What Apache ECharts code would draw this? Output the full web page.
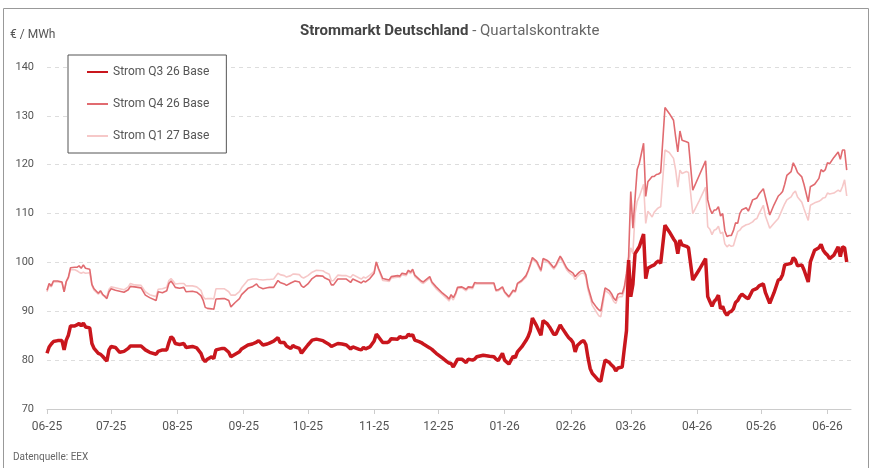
<!DOCTYPE html>
<html>
<head>
<meta charset="utf-8">
<script src="https://cdn.jsdelivr.net/npm/echarts@6/dist/echarts.min.js"></script>
<style>
  html, body { margin: 0; padding: 0; background: #fff; }
  #chart { width: 873px; height: 468px; }
</style>
</head>
<body>
<div id="chart"></div>
<script>
// trading days
const dates = [
  '2025-06-01','2025-06-02','2025-06-03','2025-06-04','2025-06-06','2025-06-08','2025-06-09','2025-06-10','2025-06-11','2025-06-12','2025-06-14','2025-06-15','2025-06-16','2025-06-17','2025-06-18','2025-06-19','2025-06-21','2025-06-22','2025-06-23','2025-06-25','2025-06-26','2025-06-27','2025-06-29','2025-06-30',
  '2025-07-01','2025-07-03','2025-07-05','2025-07-07','2025-07-09','2025-07-10','2025-07-12','2025-07-15','2025-07-17','2025-07-19','2025-07-22','2025-07-23','2025-07-25','2025-07-27','2025-07-28','2025-07-29','2025-07-30','2025-07-31',
  '2025-08-02','2025-08-04','2025-08-05','2025-08-08','2025-08-10','2025-08-12','2025-08-13','2025-08-14','2025-08-15','2025-08-17','2025-08-18','2025-08-19','2025-08-22','2025-08-23','2025-08-25','2025-08-26','2025-08-28','2025-08-30','2025-08-31',
  '2025-09-03','2025-09-05','2025-09-07','2025-09-08','2025-09-10','2025-09-12','2025-09-13','2025-09-15','2025-09-17','2025-09-18','2025-09-20','2025-09-21','2025-09-23','2025-09-24','2025-09-25','2025-09-27','2025-09-28','2025-09-29',
  '2025-10-01','2025-10-03','2025-10-05','2025-10-08','2025-10-09','2025-10-11','2025-10-12','2025-10-13','2025-10-15','2025-10-17','2025-10-19','2025-10-21','2025-10-22','2025-10-25','2025-10-26','2025-10-27','2025-10-28','2025-10-30',
  '2025-11-01','2025-11-02','2025-11-03','2025-11-05','2025-11-07','2025-11-08','2025-11-09','2025-11-12','2025-11-13','2025-11-14','2025-11-16','2025-11-17','2025-11-18','2025-11-19','2025-11-20','2025-11-22','2025-11-23','2025-11-24','2025-11-27','2025-11-28','2025-11-30',
  '2025-12-03','2025-12-05','2025-12-06','2025-12-07','2025-12-08','2025-12-09','2025-12-10','2025-12-12','2025-12-14','2025-12-15','2025-12-17','2025-12-18','2025-12-19','2025-12-22','2025-12-25','2025-12-27','2025-12-28','2025-12-29','2025-12-31',
  '2026-01-01','2026-01-03','2026-01-05','2026-01-06','2026-01-07','2026-01-09','2026-01-11','2026-01-12','2026-01-13','2026-01-14','2026-01-16','2026-01-18','2026-01-19','2026-01-21','2026-01-22','2026-01-24','2026-01-25','2026-01-27','2026-01-28','2026-01-30','2026-01-31',
  '2026-02-01','2026-02-02','2026-02-03','2026-02-04','2026-02-05','2026-02-06','2026-02-07','2026-02-08','2026-02-09','2026-02-10','2026-02-11','2026-02-13','2026-02-14','2026-02-15','2026-02-16','2026-02-17','2026-02-19','2026-02-20','2026-02-21','2026-02-22','2026-02-23','2026-02-24','2026-02-25','2026-02-26','2026-02-27','2026-02-28',
  '2026-03-01','2026-03-02','2026-03-03','2026-03-04','2026-03-05','2026-03-07','2026-03-08','2026-03-09','2026-03-11','2026-03-12','2026-03-13','2026-03-14','2026-03-15','2026-03-17','2026-03-19','2026-03-21','2026-03-22','2026-03-23','2026-03-24','2026-03-25','2026-03-27','2026-03-28','2026-03-30',
  '2026-04-02','2026-04-05','2026-04-06','2026-04-07','2026-04-08','2026-04-09','2026-04-10','2026-04-11','2026-04-12','2026-04-13','2026-04-14','2026-04-15','2026-04-16','2026-04-17','2026-04-18','2026-04-19','2026-04-20','2026-04-21','2026-04-22','2026-04-24','2026-04-25','2026-04-27','2026-04-28','2026-04-29','2026-04-30',
  '2026-05-02','2026-05-03','2026-05-05','2026-05-07','2026-05-09','2026-05-10','2026-05-11','2026-05-12','2026-05-13','2026-05-15','2026-05-16','2026-05-17','2026-05-18','2026-05-20','2026-05-21','2026-05-23','2026-05-24','2026-05-26','2026-05-28','2026-05-29','2026-05-30','2026-05-31',
  '2026-06-01','2026-06-02','2026-06-04','2026-06-06','2026-06-07','2026-06-08','2026-06-09','2026-06-10'
];

// Strom Q3 26 Base
const q3 = [
  81.4, 82.7, 83.3, 83.8, 84.0, 84.0, 82.1, 84.1, 85.1, 87.0, 87.0, 87.2, 87.5, 87.0, 87.6, 86.8, 86.6, 83.4, 82.4, 81.4, 81.2, 80.8, 79.8, 82.1,
  82.8, 82.6, 81.6, 81.8, 82.4, 82.9, 82.9, 82.9, 82.1, 81.6, 81.2, 81.8, 82.1, 82.1, 83.6, 84.8, 84.4, 83.4,
  83.2, 83.4, 82.6, 82.8, 82.5, 81.4, 80.2, 79.7, 80.2, 80.7, 80.3, 82.1, 82.4, 82.4, 81.6, 80.7, 81.2, 81.7, 82.3,
  83.1, 83.3, 83.7, 84.0, 83.1, 83.3, 83.5, 83.9, 84.6, 83.6, 83.6, 82.9, 82.4, 83.0, 82.7, 82.4, 81.4, 82.0,
  83.1, 84.1, 84.3, 84.0, 83.7, 83.2, 82.8, 83.0, 83.4, 83.3, 83.1, 82.3, 82.7, 82.2, 82.1, 82.6, 82.3, 82.7,
  83.9, 85.3, 84.8, 83.6, 83.6, 83.8, 84.4, 84.3, 84.8, 84.6, 84.7, 85.3, 85.0, 85.2, 84.1, 83.8, 83.6, 83.3, 82.5, 82.2, 81.4,
  80.4, 79.7, 79.4, 79.3, 78.6, 79.4, 80.2, 80.2, 79.5, 80.2, 80.0, 80.2, 80.7, 81.0, 80.8, 80.7, 80.2, 79.9, 81.4,
  80.0, 79.2, 80.8, 80.5, 81.7, 82.7, 84.0, 84.8, 86.0, 88.6, 87.0, 85.1, 88.1, 87.4, 86.8, 85.3, 85.3, 87.2, 86.5, 85.2, 84.6,
  84.2, 83.6, 81.7, 83.0, 83.4, 83.8, 84.0, 83.2, 80.5, 78.3, 77.3, 76.3, 75.8, 75.7, 78.0, 80.0, 79.5, 79.0, 78.6, 77.8, 78.4, 78.5, 78.6, 82.4, 86.0, 100.5,
  93.0, 95.5, 101.8, 102.5, 103.2, 105.8, 96.7, 98.8, 99.3, 99.5, 100.0, 100.3, 99.8, 107.6, 106.3, 104.8, 104.2, 101.8, 104.6, 103.6, 103.3, 103.0, 96.4,
  98.5, 100.8, 93.0, 92.0, 91.0, 92.0, 92.5, 93.3, 90.5, 91.0, 89.8, 89.2, 89.8, 90.0, 90.5, 91.8, 92.2, 93.0, 93.5, 92.8, 92.6, 94.3, 94.5, 94.7, 95.2,
  95.6, 93.8, 91.6, 93.8, 96.4, 96.6, 97.5, 99.5, 99.6, 99.8, 101.0, 100.5, 99.3, 99.5, 98.5, 96.0, 100.1, 102.5, 103.0, 103.7, 102.5, 101.9,
  101.5, 100.8, 101.5, 103.2, 101.2, 103.2, 103.0, 100.1
];

// Strom Q4 26 Base
const q4 = [
  94.3, 95.7, 95.2, 96.2, 96.2, 96.0, 94.0, 96.1, 97.0, 98.9, 99.0, 99.0, 99.3, 98.8, 99.5, 98.8, 98.6, 95.5, 94.6, 93.7, 94.2, 93.5, 92.6, 94.0,
  94.6, 94.3, 94.1, 93.9, 94.4, 95.1, 95.0, 94.8, 93.3, 92.8, 92.2, 94.0, 93.8, 94.2, 95.7, 96.2, 95.6, 94.9,
  94.7, 94.9, 94.0, 94.1, 93.9, 93.2, 92.3, 90.8, 90.6, 90.5, 90.4, 92.5, 92.6, 92.6, 92.2, 90.9, 91.8, 92.6, 93.4,
  94.7, 95.0, 95.6, 95.0, 94.6, 94.8, 94.9, 94.9, 96.3, 95.9, 95.6, 95.3, 95.8, 96.0, 96.2, 96.0, 95.2, 94.9,
  95.6, 96.7, 97.3, 97.2, 96.8, 96.4, 95.4, 95.4, 96.6, 96.6, 96.6, 95.9, 96.6, 96.0, 95.8, 96.2, 96.0, 96.7,
  97.8, 100.1, 98.8, 96.7, 96.5, 96.4, 97.1, 97.3, 97.2, 97.8, 97.6, 98.4, 98.0, 98.6, 97.4, 96.6, 96.2, 96.0, 97.1, 96.0, 95.0,
  93.7, 93.0, 92.5, 93.4, 92.8, 93.6, 94.9, 95.0, 94.5, 95.0, 94.9, 95.9, 95.8, 95.8, 95.8, 95.8, 94.3, 94.4, 95.0,
  94.0, 93.0, 94.3, 94.1, 95.7, 96.3, 97.3, 98.3, 99.6, 101.0, 100.2, 98.4, 100.8, 100.4, 100.0, 98.9, 99.5, 101.3, 100.6, 98.9, 98.4,
  98.1, 97.8, 97.1, 97.6, 98.0, 98.3, 98.3, 97.5, 95.0, 93.5, 92.0, 90.8, 90.3, 90.1, 92.5, 94.8, 94.2, 93.6, 92.7, 92.2, 93.5, 93.7, 93.6, 95.0, 97.8, 101.2,
  114.5, 107.0, 113.0, 119.0, 120.3, 124.4, 113.5, 116.5, 117.6, 117.6, 118.0, 118.1, 118.4, 131.7, 130.5, 129.1, 125.7, 122.6, 126.9, 125.0, 124.7, 124.5, 114.8,
  117.8, 120.8, 112.8, 111.0, 110.0, 110.7, 110.8, 111.4, 109.5, 110.0, 106.5, 105.3, 105.5, 105.5, 106.5, 108.1, 108.0, 110.0, 110.8, 111.2, 110.5, 112.8, 113.0, 113.2, 114.0,
  115.1, 113.3, 109.7, 111.8, 113.6, 114.0, 114.5, 116.0, 117.8, 118.6, 120.4, 119.5, 118.4, 117.5, 116.0, 112.4, 115.5, 116.0, 117.2, 119.0, 118.6, 119.0,
  120.4, 120.2, 121.5, 122.6, 121.1, 123.0, 123.0, 118.9
];

// Strom Q1 27 Base
const q1 = [
  94.0, 95.3, 95.0, 96.0, 96.0, 95.9, 94.0, 96.0, 96.8, 98.5, 98.5, 98.3, 98.0, 97.8, 98.0, 97.8, 97.9, 95.3, 94.3, 93.5, 94.0, 93.3, 93.0, 94.5,
  95.0, 94.8, 94.6, 94.4, 95.0, 95.7, 95.4, 95.3, 94.0, 93.4, 93.0, 94.5, 94.6, 94.9, 96.3, 96.7, 96.2, 95.6,
  95.7, 95.7, 95.2, 95.2, 95.0, 94.3, 93.0, 92.5, 92.6, 92.6, 92.5, 94.6, 94.6, 94.6, 94.0, 93.3, 93.3, 94.0, 94.8,
  96.4, 96.6, 96.6, 96.5, 96.4, 96.5, 96.5, 96.6, 97.8, 97.5, 97.3, 97.0, 97.3, 97.6, 97.6, 97.5, 97.0, 96.8,
  97.3, 98.0, 98.4, 98.3, 98.0, 97.6, 96.2, 96.3, 97.4, 97.3, 97.3, 96.9, 97.5, 96.8, 96.6, 97.0, 96.8, 97.4,
  98.2, 100.1, 98.6, 96.3, 96.2, 96.1, 96.8, 97.0, 96.9, 97.5, 97.3, 98.1, 97.7, 98.3, 97.1, 96.3, 95.9, 95.7, 96.8, 95.7, 94.6,
  93.4, 92.6, 92.1, 93.0, 92.3, 93.3, 94.6, 94.8, 94.2, 94.7, 94.6, 95.6, 95.6, 95.6, 95.6, 95.6, 94.1, 94.2, 94.8,
  93.8, 92.8, 94.1, 93.9, 95.5, 96.1, 97.0, 98.1, 99.3, 100.6, 99.9, 98.1, 100.5, 100.1, 99.7, 98.6, 99.2, 100.9, 100.2, 98.5, 98.0,
  97.6, 97.3, 96.5, 97.1, 97.5, 97.8, 97.8, 97.0, 94.4, 92.8, 91.2, 89.8, 89.1, 88.9, 91.5, 94.3, 93.6, 93.0, 92.0, 91.6, 92.8, 93.0, 93.0, 94.3, 97.0, 99.1,
  103.0, 101.8, 110.0, 112.5, 113.5, 116.0, 108.0, 110.5, 109.3, 110.3, 110.8, 111.2, 111.4, 123.0, 122.5, 121.3, 118.9, 115.4, 118.9, 118.2, 118.6, 118.4, 110.0,
  112.6, 115.4, 107.3, 106.8, 105.7, 106.6, 106.8, 107.4, 105.9, 106.2, 103.8, 103.2, 103.6, 103.3, 103.4, 104.9, 106.3, 106.6, 107.2, 107.7, 107.8, 108.3, 108.8, 109.0, 110.0,
  111.7, 109.5, 107.0, 108.0, 109.0, 110.0, 111.0, 112.0, 112.8, 113.4, 114.2, 114.6, 113.4, 112.3, 111.0, 108.6, 111.7, 112.2, 112.5, 112.8, 113.2, 113.3,
  114.2, 114.0, 114.2, 114.8, 114.5, 115.5, 116.9, 113.6
];

const seriesNames = ['Strom Q3 26 Base', 'Strom Q4 26 Base', 'Strom Q1 27 Base'];
const yMin = 70, yMax = 140, yStep = 10;
const xStart = '2025-06-01', xEnd = '2026-06-12';

const font = 'Roboto, "Open Sans", sans-serif';
const chart = echarts.init(document.getElementById('chart'));

function pairs(vals) {
  return dates.map((d, i) => [d, vals[i]]);
}

chart.setOption({
  animation: false,
  textStyle: { fontFamily: font },
  title: {
    text: '{b|Strommarkt Deutschland} - Quartalskontrakte',
    left: 295,
    top: 19,
    textStyle: {
      fontSize: 15,
      fontWeight: 'normal',
      color: '#666',
      fontFamily: font,
      rich: {
        b: { fontSize: 15, fontWeight: 'bold', color: '#444', fontFamily: font }
      }
    }
  },
  legend: {
    data: seriesNames,
    orient: 'vertical',
    left: 68,
    top: 55,
    padding: [10, 17, 10, 18],
    itemWidth: 21,
    itemHeight: 14,
    itemGap: 18,
    backgroundColor: '#fff',
    borderColor: '#555',
    borderWidth: 1,
    itemStyle: { color: 'transparent', borderWidth: 0, opacity: 0 },
    textStyle: { color: '#555', fontSize: 12, fontFamily: font, lineHeight: 14 }
  },
  grid: { left: 47, right: 22, top: 67, bottom: 59 },
  xAxis: {
    type: 'time',
    min: xStart,
    max: xEnd,
    minInterval: 28 * 86400000,
    maxInterval: 31 * 86400000,
    axisLine: { show: true, lineStyle: { color: '#ccc', width: 1 } },
    axisTick: { show: true, length: 5, lineStyle: { color: '#ccc' } },
    splitLine: { show: false },
    axisLabel: {
      color: '#555',
      fontSize: 12,
      margin: 12,
      fontFamily: font,
      formatter: function (v) {
        const d = new Date(v);
        const m = String(d.getMonth() + 1).padStart(2, '0');
        const y = String(d.getFullYear()).slice(2);
        return m + '-' + y;
      }
    }
  },
  yAxis: {
    type: 'value',
    min: yMin,
    max: yMax,
    interval: yStep,
    axisLine: { show: false },
    axisTick: { show: false },
    axisLabel: { color: '#555', fontSize: 11, margin: 13, fontFamily: font },
    splitLine: { lineStyle: { color: '#ddd', type: [4, 4], width: 1 } }
  },
  series: [
    {
      name: seriesNames[0],
      type: 'line',
      data: pairs(q3),
      symbol: 'none',
      z: 4,
      lineStyle: { color: '#c9161d', width: 3.5 },
      itemStyle: { color: '#c9161d' }
    },
    {
      name: seriesNames[1],
      type: 'line',
      data: pairs(q4),
      symbol: 'none',
      z: 3,
      lineStyle: { color: '#e16b70', width: 1.6 },
      itemStyle: { color: '#e16b70' }
    },
    {
      name: seriesNames[2],
      type: 'line',
      data: pairs(q1),
      symbol: 'none',
      z: 2,
      lineStyle: { color: '#f6c8c8', width: 1.6 },
      itemStyle: { color: '#f6c8c8' }
    }
  ],
  graphic: [
    {
      type: 'rect',
      shape: { x: 3.5, y: 8.5, width: 865, height: 470 },
      style: { fill: 'none', stroke: '#999', lineWidth: 1 },
      silent: true
    },
    {
      type: 'text',
      left: 10,
      top: 29,
      style: { text: '€ / MWh', fill: '#555', font: '12px ' + font }
    },
    {
      type: 'text',
      left: 13,
      top: 452,
      style: { text: 'Datenquelle: EEX', fill: '#666', font: '10px ' + font }
    }
  ]
});
</script>
</body>
</html>
